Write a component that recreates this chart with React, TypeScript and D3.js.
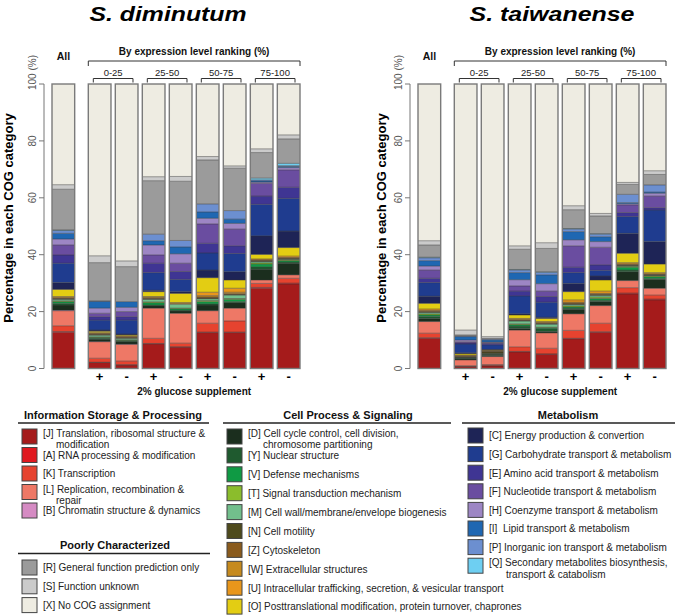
import React from "react";
import * as d3 from "d3";

// ---------- DATA ----------
const categories = ["J","A","K","L","B","D","Y","V","T","M","N","Z","W","U","O","C","G","E","F","H","I","P","Q","R","S","X"];
const categoryColors = [
  "#a51b1b","#e0191f","#e6432f","#ee7866","#d58bc3",
  "#1b2e1e","#1f5a2f","#0f9a44","#8bbd2c","#72bf8c","#4e4a1c","#8a5b1d","#c68a1e","#e8961b","#e3cd13",
  "#1e2456","#1f3c8f","#3f3593","#6a4da0","#9d86c4","#1f67b2","#6c8fd0","#6ecff2",
  "#9b9b9b","#cbcbcb","#eeece2"
];

const barKeys = ["All","0-25 +","0-25 -","25-50 +","25-50 -","50-75 +","50-75 -","75-100 +","75-100 -"];
const groupLabels = ["0-25","25-50","50-75","75-100"];
const signLabels = ["+","-","+","-","+","-","+","-"];
const yTicks = [0, 20, 40, 60, 80, 100];
const speciesNames = ["S. diminutum", "S. taiwanense"];

// S. diminutum — values (%) per bar, in category order J..X
const dimAll   = [12.7,0.3,2.0,5.3,0.2, 1.8,0.6,0.6,0.3,0.5,0.2,0.2,0.2,0.4,2.5, 2.4,6.8,2.9,3.5,2.1,2.0,1.0,0.2, 14.3,1.6,35.4];
const dim025p  = [2.1,0.1,1.4,5.8,0.1, 0.8,0.3,0.3,0.2,0.6,0.2,0.2,0.2,0.3,0.5, 0.4,3.5,1.2,1.2,1.8,2.4,0.1,0.0, 13.5,2.4,60.4];
const dim025m  = [1.2,0.1,1.3,5.9,0.1, 0.8,0.3,0.2,0.2,0.5,0.2,0.2,0.2,0.3,0.3, 0.3,4.9,1.2,1.8,1.5,2.0,0.0,0.0, 12.3,2.0,62.2];
const dim2550p = [8.6,0.2,1.8,10.6,0.0, 0.8,0.3,0.8,0.3,0.9,0.2,0.2,0.3,0.3,1.7, 0.5,6.2,3.3,2.9,3.5,1.5,2.3,0.0, 18.8,1.4,32.6];
const dim2550m = [7.5,0.1,1.3,10.5,0.0, 0.8,0.3,0.5,0.2,1.4,0.0,0.0,0.2,0.4,3.2, 0.6,4.3,2.8,2.9,3.3,2.4,2.3,0.0, 20.8,1.7,32.5];
const dim5075p = [12.6,0.2,3.1,4.4,0.0, 2.0,0.4,0.8,0.4,0.6,0.3,0.3,0.5,1.2,5.1, 2.7,6.0,3.4,6.8,2.0,2.2,2.8,0.0, 15.5,1.2,25.5];
const dim5075m = [12.6,0.2,3.9,4.5,0.0, 1.9,0.4,0.8,0.3,1.2,0.2,0.3,0.5,1.4,2.9, 2.9,6.4,2.7,5.9,2.0,1.5,3.0,0.0, 14.9,0.8,28.8];
const dim75100p= [28.2,0.3,1.4,1.2,0.0, 3.8,0.8,1.0,0.4,0.5,0.2,0.2,0.2,0.3,1.6, 6.5,11.1,2.9,4.5,0.4,0.4,0.4,0.6, 9.0,1.3,22.8];
const dim75100m= [29.7,0.3,1.7,1.2,0.0, 4.1,0.4,0.5,0.3,0.2,0.2,0.2,0.2,0.5,3.0, 5.8,11.5,3.9,6.1,0.8,0.4,0.3,0.8, 8.6,1.4,17.9];

// S. taiwanense
const taiAll   = [10.6,0.2,1.6,4.1,0.0, 1.1,0.7,0.5,0.4,0.5,0.2,0.2,0.3,0.5,2.0, 2.5,4.8,1.5,2.9,1.4,1.9,1.0,0.2, 4.3,1.5,55.1];
const tai025p  = [0.6,0.1,0.3,2.0,0.0, 0.4,0.2,0.1,0.1,0.1,0.2,0.2,0.2,0.2,0.5, 0.3,3.1,0.4,0.4,0.6,1.2,0.2,0.0, 0.4,1.7,86.5];
const tai025m  = [0.9,0.1,0.4,2.8,0.0, 0.4,0.3,0.1,0.1,0.1,0.6,0.2,0.2,0.2,0.1, 0.2,1.6,0.5,0.3,0.2,0.7,0.3,0.0, 0.3,0.6,88.8];
const tai2550p = [5.8,0.2,1.6,5.9,0.0, 0.6,0.8,0.5,0.3,1.0,0.1,0.2,0.3,0.3,1.2, 0.4,6.3,1.7,1.8,2.2,2.5,0.9,0.2, 7.1,1.2,56.9];
const tai2550m = [5.0,0.1,2.0,5.4,0.0, 0.5,1.0,0.3,0.2,1.1,0.1,0.2,0.3,0.3,1.1, 0.4,5.3,2.0,1.9,2.6,3.1,0.9,0.2, 8.2,2.0,55.8];
const tai5075p = [10.4,0.2,2.8,5.8,0.0, 1.6,0.4,0.4,0.4,0.5,0.2,0.3,0.3,0.8,2.9, 2.9,3.8,1.9,7.5,2.1,2.9,0.9,0.2, 6.6,1.4,42.8];
const tai5075m = [12.7,0.2,3.0,6.2,0.0, 1.4,0.5,0.6,0.5,0.6,0.2,0.2,0.3,0.8,3.9, 1.4,2.0,1.9,6.2,2.0,1.7,0.9,0.2, 6.2,0.9,45.5];
const tai75100p= [26.2,0.3,1.9,2.5,0.0, 3.1,0.6,1.0,0.3,0.2,0.2,0.2,0.3,0.4,3.3, 7.0,5.9,1.4,2.7,0.4,0.4,2.9,0.0, 3.5,0.7,34.6];
const tai75100m= [24.1,0.3,1.4,2.4,0.0, 3.1,0.3,0.6,0.3,0.2,0.2,0.2,0.2,0.4,3.0, 7.9,11.1,0.8,4.1,1.0,0.4,2.5,0.0, 3.7,1.3,30.5];

const diminutumBars = [dimAll, dim025p, dim025m, dim2550p, dim2550m, dim5075p, dim5075m, dim75100p, dim75100m];
const taiwanenseBars = [taiAll, tai025p, tai025m, tai2550p, tai2550m, tai5075p, tai5075m, tai75100p, tai75100m];

// Legend
const infoCodes = ["J","A","K","L","B"];
const infoLabels = [
  ["[J] Translation, ribosomal structure &", "modification"],
  ["[A] RNA processing & modification"],
  ["[K] Transcription"],
  ["[L] Replication, recombination &", "repair"],
  ["[B] Chromatin structure & dynamics"],
];
const poorCodes = ["R","S","X"];
const poorLabels = [["[R] General function prediction only"],["[S] Function unknown"],["[X] No COG assignment"]];
const cellCodes = ["D","Y","V","T","M","N","Z","W","U","O"];
const cellLabels = [
  ["[D] Cell cycle control, cell division,", "chromosome partitioning"],
  ["[Y] Nuclear structure"],
  ["[V] Defense mechanisms"],
  ["[T] Signal transduction mechanism"],
  ["[M] Cell wall/membrane/envelope biogenesis"],
  ["[N] Cell motility"],
  ["[Z] Cytoskeleton"],
  ["[W] Extracellular structures"],
  ["[U] Intracellular trafficking, secretion, & vesicular transport"],
  ["[O] Posttranslational modification, protein turnover, chaprones"],
];
const metabCodes = ["C","G","E","F","H","I","P","Q"];
const metabLabels = [
  ["[C] Energy production & convertion"],
  ["[G] Carbohydrate transport & metabolism"],
  ["[E] Amino acid transport & metabolism"],
  ["[F] Nucleotide transport & metabolism"],
  ["[H] Coenzyme transport & metabolism"],
  ["[I]  Lipid transport & metabolism"],
  ["[P] Inorganic ion transport & metabolism"],
  ["[Q] Secondary metabolites biosynthesis,", "transport & catabolism"],
];

// ---------- DRAWING ----------
const FONT = "'Liberation Sans', Arial, Helvetica, sans-serif";
const colorScale = d3.scaleOrdinal<string, string>().domain(categories).range(categoryColors);

const yScale = d3.scaleLinear().domain([0, 100]).range([368.5, 84]);
const groupScale = d3.scaleBand<string>().domain(barKeys.slice(1)).range([88.3, 300]).paddingInner(0.16).paddingOuter(0);
const ALL_X = 52;

function StackedBar({ values, x, w }: { values: number[]; x: number; w: number }) {
  const stack = d3.stack<number[]>().keys(categories.map((_, i) => String(i))).value((d, k) => d[+k]);
  const series = stack([values]);
  const segs = series.map((s, i) => ({ y0: s[0][0], y1: s[0][1], c: categories[i] }));
  const total = segs[segs.length - 1].y1;
  return (
    <g>
      {segs.filter(s => s.y1 > s.y0).map((s, i) => (
        <rect key={i} x={x} y={yScale(s.y1)} width={w} height={yScale(s.y0) - yScale(s.y1)} fill={colorScale(s.c)} />
      ))}
      {segs.slice(0, -1).filter(s => s.y1 > s.y0).map((s, i) => (
        <line key={"l" + i} x1={x} x2={x + w} y1={yScale(s.y1)} y2={yScale(s.y1)} stroke="#333" strokeWidth={0.6} strokeOpacity={0.8} />
      ))}
      <rect x={x} y={yScale(total)} width={w} height={yScale(0) - yScale(total)} fill="none" stroke="#7a7a7a" strokeWidth={1.4} />
    </g>
  );
}

function Panel({ bars, dx, title, titleX, titleLen, yTitleX }: { bars: number[][]; dx: number; title: string; titleX: number; titleLen: number; yTitleX: number }) {
  const bw = groupScale.bandwidth();
  const gx0 = groupScale.range()[0];
  const gx1 = groupScale.range()[1];
  const gmid = (gx0 + gx1) / 2;
  return (
    <g>
      <text x={titleX} y={21} textAnchor="middle" fontFamily={FONT} fontWeight="bold" fontStyle="italic" fontSize={19.5}
        textLength={titleLen} lengthAdjust="spacingAndGlyphs" fill="#000">{title}</text>
      <text transform={`translate(${yTitleX},${218}) rotate(-90)`} textAnchor="middle" fontFamily={FONT} fontWeight="bold" fontSize={13} fill="#000">Percentage in each COG category</text>
      <g transform={`translate(${dx},0)`}>
        {/* y axis */}
        <line x1={44} x2={44} y1={yScale(0)} y2={yScale(100)} stroke="#777" strokeWidth={1} />
        {yTicks.map(t => (
          <g key={t}>
            <line x1={39} x2={44} y1={yScale(t)} y2={yScale(t)} stroke="#777" strokeWidth={1} />
            <text transform={`translate(35.5,${t === 100 ? yScale(t) + 6 : yScale(t)}) rotate(-90)`} textAnchor={t === 100 ? "start" : "middle"}
              fontFamily={FONT} fontSize={10} fill="#555">{t === 100 ? "100 (%)" : String(t)}</text>
          </g>
        ))}
        {/* bars */}
        <StackedBar values={bars[0]} x={ALL_X} w={bw} />
        {barKeys.slice(1).map((k, i) => (
          <StackedBar key={k} values={bars[i + 1]} x={groupScale(k)!} w={bw} />
        ))}
        {/* header */}
        <text x={ALL_X + bw / 2} y={60} textAnchor="middle" fontFamily={FONT} fontWeight="bold" fontSize={10.5} fill="#111">All</text>
        <text x={gmid} y={55} textAnchor="middle" fontFamily={FONT} fontWeight="bold" fontSize={10} fill="#111">By expression level ranking (%)</text>
        <path d={`M${gx0},66V61H${gx1}V66`} fill="none" stroke="#333" strokeWidth={1} />
        {groupLabels.map((g, i) => {
          const a = groupScale(barKeys[1 + i * 2])!;
          const b = groupScale(barKeys[2 + i * 2])! + bw;
          const m = (a + b) / 2;
          return (
            <g key={g}>
              <text x={m} y={75.5} textAnchor="middle" fontFamily={FONT} fontSize={9.5} fill="#222">{g}</text>
              <path d={`M${a + 5},82.5V78.5H${b - 5}V82.5`} fill="none" stroke="#333" strokeWidth={1} />
            </g>
          );
        })}
        {/* +/- */}
        {barKeys.slice(1).map((k, i) => (
          <text key={k} x={groupScale(k)! + bw / 2} y={380.5} textAnchor="middle" fontFamily={FONT} fontWeight="bold" fontSize={13} fill="#000">{signLabels[i]}</text>
        ))}
        <text x={gmid} y={395} textAnchor="middle" fontFamily={FONT} fontWeight="bold" fontSize={10} fill="#111">2% glucose supplement</text>
      </g>
    </g>
  );
}

function LegendBlock({ heading, headX, headY, lineX0, lineX1, codes, labels, sx, top0, step, indent }:
  { heading: string; headX: number; headY: number; lineX0: number; lineX1: number; codes: string[]; labels: string[][]; sx: number; top0: number; step: number; indent: number }) {
  return (
    <g fontFamily={FONT}>
      <text x={headX} y={headY} textAnchor="middle" fontWeight="bold" fontSize={11} fill="#111">{heading}</text>
      <line x1={lineX0} x2={lineX1} y1={headY + 4.5} y2={headY + 4.5} stroke="#222" strokeWidth={1.6} />
      {codes.map((c, i) => {
        const top = top0 + i * step;
        const lines = labels[i];
        return (
          <g key={c}>
            <rect x={sx} y={top} width={15} height={15} fill={colorScale(c)} stroke="#444" strokeWidth={1} />
            {lines.length === 1 ? (
              <text x={sx + 21} y={top + 11.3} fontSize={10} fill="#222" style={{ whiteSpace: "pre" }}>{lines[0]}</text>
            ) : (
              <>
                <text x={sx + 21} y={top + 8} fontSize={10} fill="#222">{lines[0]}</text>
                <text x={sx + indent} y={top + 19.3} fontSize={10} fill="#222">{lines[1]}</text>
              </>
            )}
          </g>
        );
      })}
    </g>
  );
}

export default function App() {
  return (
    <svg width={677} height={616} viewBox="0 0 677 616" style={{ position: "absolute", left: 0, top: 0, background: "#fff" }}>
      <rect width={677} height={616} fill="#fff" />
      <Panel bars={diminutumBars} dx={0} title={speciesNames[0]} titleX={168} titleLen={157} yTitleX={13} />
      <Panel bars={taiwanenseBars} dx={366} title={speciesNames[1]} titleX={552} titleLen={165} yTitleX={386} />
      <LegendBlock heading="Information Storage & Processing" headX={113} headY={418.5} lineX0={18} lineX1={209}
        codes={infoCodes} labels={infoLabels} sx={22} top0={429} step={18.5} indent={34} />
      <LegendBlock heading="Poorly Characterized" headX={115} headY={549} lineX0={18} lineX1={210}
        codes={poorCodes} labels={poorLabels} sx={22} top0={560} step={18.8} indent={34} />
      <LegendBlock heading="Cell Process & Signaling" headX={348} headY={418.5} lineX0={223} lineX1={451}
        codes={cellCodes} labels={cellLabels} sx={227} top0={429} step={18.9} indent={36} />
      <LegendBlock heading="Metabolism" headX={568} headY={418.5} lineX0={462} lineX1={675}
        codes={metabCodes} labels={metabLabels} sx={468} top0={428} step={18.6} indent={38} />
    </svg>
  );
}
